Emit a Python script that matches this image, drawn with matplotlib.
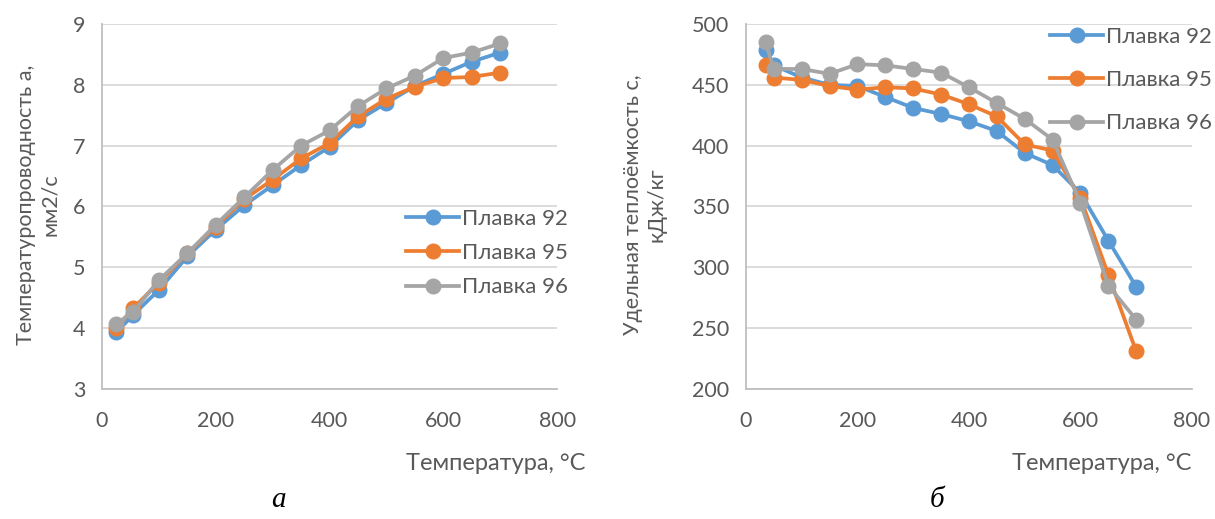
import matplotlib
matplotlib.use('Agg')
import matplotlib.pyplot as plt

plt.rcParams['font.family'] = ['Lato', 'DejaVu Sans']

# --- data ---
temp_a = [25, 55, 100, 150, 200, 250, 300, 350, 400, 450, 500, 550, 600, 650, 700]
a_92 = [3.93, 4.22, 4.63, 5.18, 5.62, 6.02, 6.35, 6.68, 6.98, 7.42, 7.70, 7.98, 8.18, 8.38, 8.53]
a_95 = [4.00, 4.33, 4.75, 5.23, 5.67, 6.12, 6.44, 6.79, 7.04, 7.48, 7.77, 7.97, 8.11, 8.13, 8.20]
a_96 = [4.07, 4.27, 4.79, 5.23, 5.70, 6.15, 6.60, 7.00, 7.25, 7.65, 7.94, 8.15, 8.44, 8.53, 8.68]

temp_c = [35, 50, 100, 150, 200, 250, 300, 350, 400, 450, 500, 550, 600, 650, 700]
c_92 = [479, 466, 456, 450, 449, 440, 431, 426, 420, 412, 394, 384, 361, 322, 284]
c_95 = [466, 456, 454, 449, 446, 448, 447, 442, 434, 424, 401, 396, 357, 294, 231]
c_96 = [485, 463, 463, 459, 467, 466, 463, 460, 448, 435, 422, 405, 353, 285, 257]

labels = ['Плавка 92', 'Плавка 95', 'Плавка 96']
colors = ['#5B9BD5', '#ED7D31', '#A5A5A5']

fig = plt.figure(figsize=(12.15, 5.19), dpi=100)
ax1 = fig.add_axes([0.0840, 0.2505, 0.3745, 0.7033])
ax2 = fig.add_axes([0.6140, 0.2505, 0.3670, 0.7033])


def style_axes(ax, ylim, yticks):
    ax.set_xlim(0, 800)
    ax.set_xticks([0, 200, 400, 600, 800])
    ax.set_ylim(*ylim)
    ax.set_yticks(yticks)
    ax.grid(axis='y', color='#D9D9D9', linewidth=1.3)
    ax.set_axisbelow(True)
    for s in ['top', 'right']:
        ax.spines[s].set_visible(False)
    ax.spines['left'].set_color('#BFBFBF')
    ax.spines['bottom'].set_color('#BFBFBF')
    ax.spines['left'].set_linewidth(1.3)
    ax.spines['bottom'].set_linewidth(1.3)
    ax.tick_params(length=0, labelsize=15.5, colors='#595959')
    ax.tick_params(axis='x', pad=16)
    ax.tick_params(axis='y', pad=12)


for ys, lab, col in zip([a_92, a_95, a_96], labels, colors):
    ax1.plot(temp_a, ys, color=col, lw=2.7, marker='o', ms=10.5, label=lab)
for ys, lab, col in zip([c_92, c_95, c_96], labels, colors):
    ax2.plot(temp_c, ys, color=col, lw=2.7, marker='o', ms=10.5, label=lab)

style_axes(ax1, (3, 9), [3, 4, 5, 6, 7, 8, 9])
style_axes(ax2, (200, 500), [200, 250, 300, 350, 400, 450, 500])

ax1.legend(loc='center left', bbox_to_anchor=(406 / 1215, 1 - 253 / 519), bbox_transform=fig.transFigure,
           frameon=False, fontsize=16, handlelength=2.4, handletextpad=0.12, labelspacing=0.65,
           labelcolor='#595959', borderaxespad=0, borderpad=0)
ax2.legend(loc='center left', bbox_to_anchor=(1050 / 1215, 1 - 80 / 519), bbox_transform=fig.transFigure,
           frameon=False, fontsize=16, handlelength=2.4, handletextpad=0.12, labelspacing=1.05,
           labelcolor='#595959', borderaxespad=0, borderpad=0)

# axis titles
fig.text(585 / 1215, 1 - 463 / 519, 'Температура, °С', ha='right', va='center', fontsize=17, color='#595959')
fig.text(1192 / 1215, 1 - 463 / 519, 'Температура, °С', ha='right', va='center', fontsize=17, color='#595959')
fig.text(38 / 1215, 1 - 205 / 519, 'Температуропроводность а,\nмм2/с', rotation=90, ha='center', va='center',
         fontsize=15.5, color='#595959', linespacing=1.2)
fig.text(645 / 1215, 1 - 205 / 519, 'Удельная теплоёмкость с,\nкДж/кг', rotation=90, ha='center', va='center',
         fontsize=15.5, color='#595959', linespacing=1.2)

# sub captions
fig.text(278 / 1215, 1 - 500 / 519, 'а', ha='center', va='center', fontsize=21, style='italic',
         family=['Liberation Serif', 'DejaVu Serif'])
fig.text(937 / 1215, 1 - 500 / 519, 'б', ha='center', va='center', fontsize=21, style='italic',
         family=['Liberation Serif', 'DejaVu Serif'])

fig.savefig('out.png', dpi=100)
